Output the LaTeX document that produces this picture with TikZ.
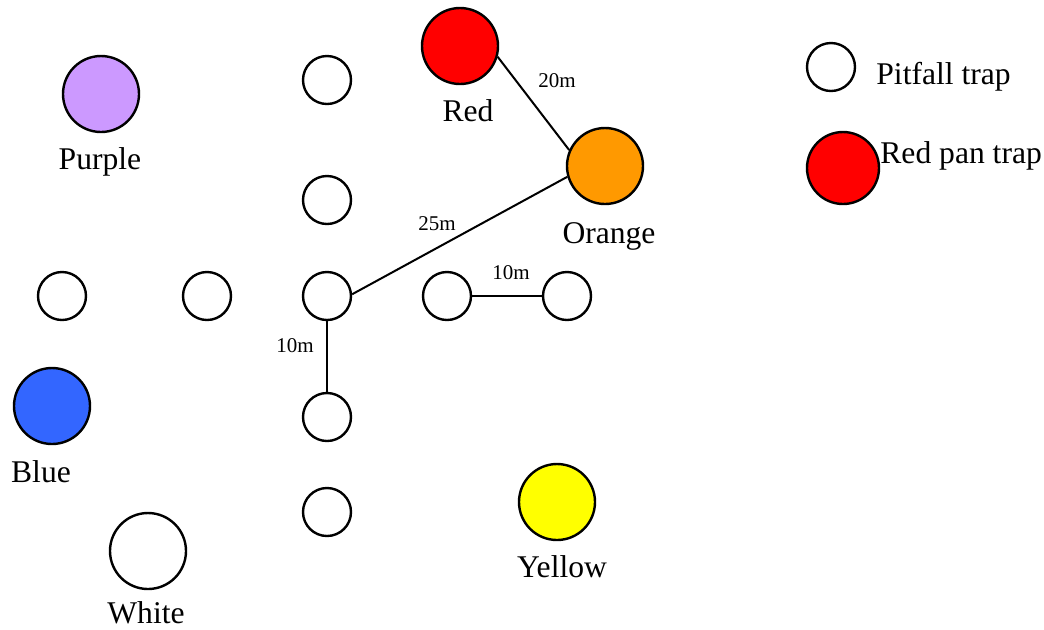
\documentclass[tikz,border=0pt]{standalone}
\usepackage{fontspec}
\setmainfont{Liberation Serif}
\definecolor{cred}{HTML}{FF0000}
\definecolor{corange}{HTML}{FF9900}
\definecolor{cpurple}{HTML}{CC99FF}
\definecolor{cblue}{HTML}{3366FF}
\definecolor{cyellow}{HTML}{FFFF00}
\tikzset{
  pit/.style={circle,draw=black,line width=1.2pt,fill=white,minimum size=24pt,inner sep=0pt},
  pan/.style={circle,draw=black,line width=1.2pt,minimum size=38pt,inner sep=0pt},
  biglabel/.style={anchor=base,inner sep=0pt,font=\fontsize{15.8pt}{18pt}\selectfont},
  dist/.style={anchor=base,inner sep=0pt,font=\fontsize{10.5pt}{12pt}\selectfont},
  conn/.style={line width=1pt,draw=black}
}
\begin{document}
\begin{tikzpicture}[x=0.5pt,y=-0.5pt]
\useasboundingbox (0,0) rectangle (1044,629);
% pitfall traps
\node[pit] (p1) at (327,80) {};
\node[pit] (p2) at (327,200) {};
\node[pit] (p3) at (62,296) {};
\node[pit] (p4) at (207,296) {};
\node[pit] (pc) at (327,296) {};
\node[pit] (p5) at (447,296) {};
\node[pit] (p6) at (567,296) {};
\node[pit] (p7) at (327,417) {};
\node[pit] (p8) at (327,512) {};
% pan traps
\node[pan,fill=cred] (red) at (460,46) {};
\node[pan,fill=corange] (orange) at (605,166) {};
\node[pan,fill=cpurple] (purple) at (101,94) {};
\node[pan,fill=cblue] (blue) at (52,406) {};
\node[pan,fill=white] (white) at (148,551) {};
\node[pan,fill=cyellow] (yellow) at (557,502) {};
% labels
\node[biglabel] (lred) at (468,121) {Red};
\node[biglabel] (lorange) at (609,243) {Orange};
\node[biglabel] (lpurple) at (100,169) {Purple};
\node[biglabel] (lblue) at (41,482) {Blue};
\node[biglabel] (lwhite) at (146,623) {White};
\node[biglabel] (lyellow) at (562,577) {Yellow};
% legend
\node[pit] (legpit) at (831,67) {};
\node[biglabel,anchor=base west] (legpittext) at (876,84) {Pitfall trap};
\node[pan,fill=cred,minimum size=36pt] (legred) at (843,168) {};
\node[biglabel,anchor=base west] (legredtext) at (880,163) {Red pan trap};
% connectors
\draw[conn] (red.-16) -- (orange.156);
\draw[conn] (orange.196) -- (pc.4);
\draw[conn] (p5) -- (p6);
\draw[conn] (pc) -- (p7);
% distance labels
\node[dist] (d20) at (557,87) {20m};
\node[dist] (d25) at (437,230) {25m};
\node[dist] (d10a) at (511,279) {10m};
\node[dist] (d10b) at (295,352) {10m};
\end{tikzpicture}
\end{document}
